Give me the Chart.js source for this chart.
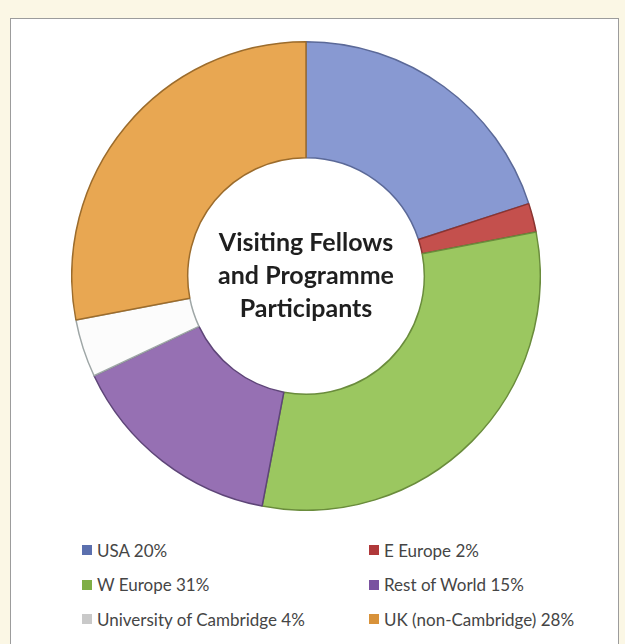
<!DOCTYPE html>
<html>
<head>
<meta charset="utf-8">
<script src="https://cdn.jsdelivr.net/npm/chart.js@4"></script>
<style>
  html, body { margin: 0; padding: 0; }
  body { width: 625px; height: 644px; background: #fbf7e5; position: relative; overflow: hidden; }
  #frame { position: absolute; left: 10px; top: 18px; width: 609px; height: 640px;
           background: #fff; border: 1.5px solid #9c9c9c; box-sizing: border-box; }
  #wrap { position: absolute; left: 71px; top: 41px; width: 470px; height: 470px; }
  #legend { position: absolute; left: 82px; top: 533px; width: 520px;
            display: grid; grid-template-columns: 287px 230px; grid-auto-rows: 34.5px;
            font-family: Lato, sans-serif; font-size: 17px; color: #454545; }
  #legend div { display: flex; align-items: center; white-space: nowrap; }
  #legend span.box { width: 10px; height: 10px; margin-right: 5px; display: inline-block; box-sizing: border-box; }
</style>
</head>
<body>
<div id="frame"></div>
<div id="wrap"><canvas id="donut"></canvas></div>
<div id="legend"></div>
<script>
var categories = ['USA', 'E Europe', 'W Europe', 'Rest of World', 'University of Cambridge', 'UK (non-Cambridge)'];
var shares = [20, 2, 31, 15, 4, 28];
var sliceColors = ['#8899d2', '#c4504d', '#9bc760', '#9670b3', '#fcfcfc', '#e8a752'];
var edgeColors = ['#5b6998', '#8a3431', '#6a8c3c', '#5e4578', '#9ea6a6', '#9c6c2c'];
var legendColors = ['#5b6fae', '#b0383a', '#7fae45', '#7a52a0', '#c9c9c9', '#d8923a'];
var centerLines = ['Visiting Fellows', 'and Programme', 'Participants'];

var centerText = {
    id: 'centerText',
    afterDraw: function(chart) {
        var arc = chart.getDatasetMeta(0).data[0];
        var ctx = chart.ctx;
        ctx.save();
        ctx.font = 'bold 25px Lato';
        ctx.fillStyle = '#1f1f1f';
        ctx.textAlign = 'center';
        ctx.textBaseline = 'middle';
        centerLines.forEach(function(line, i) {
            ctx.fillText(line, arc.x, arc.y + (i - 1) * 33);
        });
        ctx.restore();
    }
};

var chart = new Chart(document.getElementById('donut').getContext('2d'), {
    type: 'doughnut',
    data: {
        labels: categories,
        datasets: [{
            data: shares,
            backgroundColor: sliceColors,
            borderColor: edgeColors,
            borderWidth: 1.5
        }]
    },
    options: {
        responsive: true,
        maintainAspectRatio: false,
        animation: false,
        cutout: '50.5%',
        layout: { padding: 0 },
        plugins: {
            legend: { display: false },
            tooltip: { enabled: false }
        }
    },
    plugins: [centerText]
});

// two-column legend, filled row by row like the original
var legend = document.getElementById('legend');
categories.forEach(function(name, i) {
    var item = document.createElement('div');
    var box = document.createElement('span');
    box.className = 'box';
    box.style.background = legendColors[i];
    item.appendChild(box);
    item.appendChild(document.createTextNode(name + ' ' + shares[i] + '%'));
    legend.appendChild(item);
});
</script>
</body>
</html>
